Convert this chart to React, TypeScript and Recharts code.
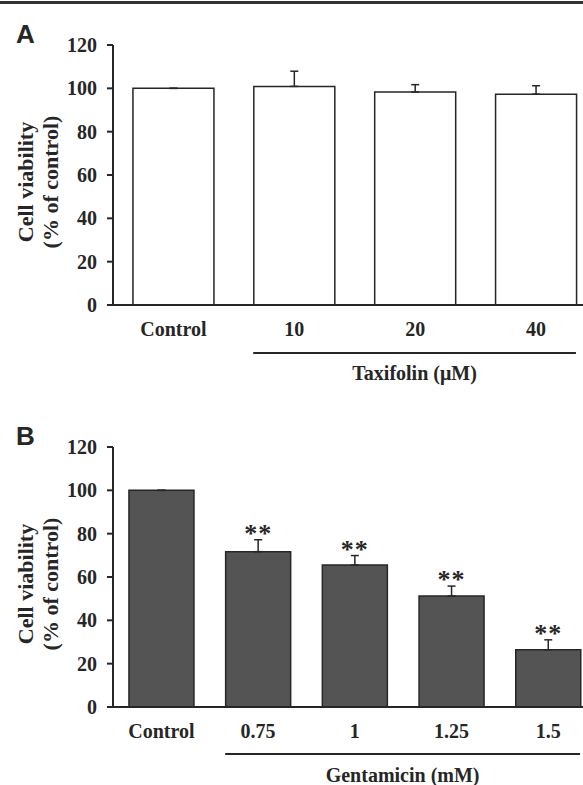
import { BarChart, Bar, XAxis, YAxis, ErrorBar, LabelList, Label } from "recharts"

const SERIF = "'Liberation Serif', 'Times New Roman', Times, serif"
const SANS = "'Liberation Sans', Arial, Helvetica, sans-serif"
const INK = "#262626"

// panel A: taxifolin alone
const taxifolinDoses = ["Control", "10", "20", "40"]
const taxifolinViability = [100, 100.9, 98.3, 97.3]
const taxifolinSem = [0, 7, 3.4, 3.9]
const taxifolinMarks = ["", "", "", ""]

// panel B: gentamicin alone
const gentamicinDoses = ["Control", "0.75", "1", "1.25", "1.5"]
const gentamicinViability = [100, 71.7, 65.5, 51.2, 26.4]
const gentamicinSem = [0, 5.5, 4.4, 4.6, 4.6]
const gentamicinMarks = ["", "**", "**", "**", "**"]

const yTicks = [0, 20, 40, 60, 80, 100, 120]

const tickStyle = { fill: INK, fontSize: 20, fontFamily: SERIF, fontWeight: 700 }

type PanelProps = {
	letter: string
	doses: string[]
	viability: number[]
	sem: number[]
	marks: string[]
	fill: string
	groupLabel: string
	top: number
	marginTop: number
	groupLineY: number
	groupTextY: number
}

function Panel({ letter, doses, viability, sem, marks, fill, groupLabel, top, marginTop, groupLineY, groupTextY }: PanelProps) {
	const data = doses.map((d, i) => ({
		dose: d,
		viability: viability[i],
		err: [0, sem[i]],
		mark: marks[i]
	}))
	const n = doses.length

	// y label in two lines + panel letter
	const yLabel = (props: any) => {
		const vb = props.viewBox
		const cy = vb.y + vb.height / 2 + 7
		return (
			<g>
				<text x={16} y={marginTop - 2} fontFamily={SANS} fontWeight={700} fontSize={26} fill={INK}>
					{letter}
				</text>
				<text x={25} y={cy} transform={`rotate(-90 25 ${cy})`} textAnchor="middle" dominantBaseline="central" fontFamily={SERIF} fontWeight={700} fontSize={22} fill={INK}>
					Cell viability
				</text>
				<text x={50} y={cy} transform={`rotate(-90 50 ${cy})`} textAnchor="middle" dominantBaseline="central" fontFamily={SERIF} fontWeight={700} fontSize={22} fill={INK}>
					(% of control)
				</text>
			</g>
		)
	}

	// bracket line under the treated groups
	const xLabel = (props: any) => {
		const vb = props.viewBox
		const bw = vb.width / n
		const x1 = vb.x + bw * 1.16
		const x2 = vb.x + n * bw - bw * 0.17
		return (
			<g>
				<line x1={x1} x2={x2} y1={vb.y + groupLineY} y2={vb.y + groupLineY} stroke={INK} strokeWidth={2} />
				<text x={(x1 + x2) / 2} y={vb.y + groupTextY} textAnchor="middle" dominantBaseline="central" fontFamily={SERIF} fontWeight={700} fontSize={20} fill={INK}>
					{groupLabel}
				</text>
			</g>
		)
	}

	const stars = (props: any) => {
		const { x, y, width, height, value, index } = props
		if (!value || index === undefined) return null
		const errPx = (sem[index] * height) / viability[index]
		return (
			<text x={x + width / 2} y={y - errPx + 2} textAnchor="middle" letterSpacing={1} fontFamily={SERIF} fontWeight={700} fontSize={26} fill={INK}>
				{value}
			</text>
		)
	}

	return (
		<BarChart
			width={600}
			height={390}
			data={data}
			margin={{ top: marginTop, right: 3.5, left: 0, bottom: 0 }}
			barCategoryGap="16.5%"
			style={{ position: "absolute", top, left: 0 }}
		>
			<YAxis
				width={113}
				domain={[0, 120]}
				ticks={yTicks}
				interval={0}
				tick={tickStyle}
				tickSize={6}
				tickMargin={10}
				axisLine={{ stroke: INK, strokeWidth: 2 }}
				tickLine={{ stroke: INK, strokeWidth: 2 }}
			>
				<Label content={yLabel} />
			</YAxis>
			<XAxis
				dataKey="dose"
				height={390 - marginTop - 260}
				tick={tickStyle}
				tickLine={false}
				tickSize={0}
				tickMargin={17}
				interval={0}
				axisLine={{ stroke: INK, strokeWidth: 2 }}
			>
				<Label content={xLabel} />
			</XAxis>
			<Bar dataKey="viability" fill={fill} stroke={INK} strokeWidth={1.5} isAnimationActive={false}>
				<ErrorBar dataKey="err" width={4} stroke={INK} strokeWidth={1.5} />
				<LabelList dataKey="mark" content={stars} />
			</Bar>
		</BarChart>
	)
}

export default function App() {
	return (
		<div style={{ position: "absolute", top: 0, left: 0, width: 583, height: 785, overflow: "hidden", background: "#fff" }}>
			<div style={{ position: "absolute", top: 1, left: 0, width: 583, height: 3, background: "#333" }} />
			<Panel
				letter="A"
				doses={taxifolinDoses}
				viability={taxifolinViability}
				sem={taxifolinSem}
				marks={taxifolinMarks}
				fill="#ffffff"
				groupLabel="Taxifolin (μM)"
				top={0}
				marginTop={45}
				groupLineY={48}
				groupTextY={68}
			/>
			<Panel
				letter="B"
				doses={gentamicinDoses}
				viability={gentamicinViability}
				sem={gentamicinSem}
				marks={gentamicinMarks}
				fill="#545454"
				groupLabel="Gentamicin (mM)"
				top={400}
				marginTop={47}
				groupLineY={47}
				groupTextY={68}
			/>
		</div>
	)
}
